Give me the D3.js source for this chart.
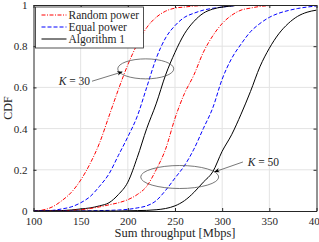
<!DOCTYPE html>
<meta charset="utf-8">
<html lang="en">
<head>
    <script src="https://d3js.org/d3.v7.min.js"></script>
    <style>
        body { margin: 0; background: #fff; }
        text { font-family: "Liberation Serif", serif; fill: #262626; }
        .grid line { stroke: #e3e3e3; stroke-width: 1; }
    </style>
</head>
<body>
<svg width="319" height="242"></svg>
<script>
    // throughput grid (Mbps) shared by the series
    var xs = [100, 110, 120, 130, 140, 150, 160, 170, 180, 190, 200, 210, 220, 230, 240, 250,
              260, 270, 280, 290, 300, 310, 320, 330, 340, 350, 360, 370, 380, 390, 400];

    // K = 30
    var random30 = [0, 0.005, 0.02, 0.05, 0.09, 0.15, 0.23, 0.33, 0.46, 0.59, 0.71, 0.81, 0.89, 0.94, 0.97, 0.985,
                    0.99, 0.995, 0.997, 0.999, 1, 1, 1, 1, 1, 1, 1, 1, 1, 1, 1];
    var equal30  = [0, 0.001, 0.003, 0.01, 0.02, 0.04, 0.07, 0.12, 0.18, 0.27, 0.36, 0.46, 0.6, 0.74, 0.84, 0.9,
                    0.94, 0.96, 0.975, 0.984, 0.99, 0.995, 1, 1, 1, 1, 1, 1, 1, 1, 1];
    var algo30   = [0, 0, 0.001, 0.002, 0.005, 0.01, 0.015, 0.025, 0.04, 0.08, 0.14, 0.26, 0.4, 0.52, 0.66, 0.77,
                    0.86, 0.92, 0.96, 0.98, 0.99, 0.995, 1, 1, 1, 1, 1, 1, 1, 1, 1];
    // K = 50
    var random50 = [0, 0, 0, 0.001, 0.003, 0.006, 0.012, 0.02, 0.03, 0.04, 0.055, 0.08, 0.12, 0.2, 0.3, 0.45,
                    0.57, 0.66, 0.77, 0.85, 0.91, 0.95, 0.975, 0.985, 0.993, 0.997, 1, 1, 1, 1, 1];
    var equal50  = [0, 0, 0, 0, 0, 0, 0.001, 0.002, 0.003, 0.005, 0.008, 0.015, 0.025, 0.05, 0.1, 0.16,
                    0.22, 0.3, 0.4, 0.5, 0.64, 0.74, 0.81, 0.87, 0.91, 0.94, 0.96, 0.973, 0.983, 0.99, 0.995];
    var algo50   = [0, 0, 0, 0, 0, 0, 0, 0, 0, 0, 0.001, 0.002, 0.003, 0.006, 0.012, 0.025,
                    0.05, 0.09, 0.14, 0.19, 0.29, 0.37, 0.47, 0.58, 0.7, 0.79, 0.86, 0.91, 0.945, 0.965, 0.975];

    var xTicks = [100, 150, 200, 250, 300, 350, 400];
    var yTicks = [0, 0.2, 0.4, 0.6, 0.8, 1];
    var names = ["Random power", "Equal power", "Algorithm 1"];

    var series = [
        { name: names[0], vals: random30, color: "#ff0000", dash: "4,1.5,1,1.5" },
        { name: names[1], vals: equal30,  color: "#0000ff", dash: "4,2" },
        { name: names[2], vals: algo30,   color: "#000000", dash: null },
        { name: names[0], vals: random50, color: "#ff0000", dash: "4,1.5,1,1.5" },
        { name: names[1], vals: equal50,  color: "#0000ff", dash: "4,2" },
        { name: names[2], vals: algo50,   color: "#000000", dash: null }
    ];

    var svg = d3.select("svg"),
        margin = { top: 5, right: 2.5, bottom: 31, left: 33.5 },
        width = 319 - margin.left - margin.right,
        height = 242 - margin.top - margin.bottom,
        g = svg.append("g").attr("transform", "translate(" + margin.left + "," + margin.top + ")");

    var x = d3.scaleLinear().domain([100, 400]).range([0, width]);
    var y = d3.scaleLinear().domain([0, 1]).range([height, 0]);

    // grid
    g.append("g").attr("class", "grid")
        .selectAll("line").data(xTicks.slice(1, -1)).enter().append("line")
        .attr("x1", x).attr("x2", x).attr("y1", 0).attr("y2", height);
    g.append("g").attr("class", "grid")
        .selectAll("line").data(yTicks.slice(1, -1)).enter().append("line")
        .attr("y1", y).attr("y2", y).attr("x1", 0).attr("x2", width);

    var defs = svg.append("defs");
    g.append("clipPath").attr("id", "clip").append("rect")
        .attr("width", width).attr("height", height);

    var line = d3.line()
        .x(function(d, i) { return x(xs[i]); })
        .y(function(d) { return y(d); })
        .curve(d3.curveMonotoneX);

    g.append("g").attr("clip-path", "url(#clip)")
        .selectAll("path").data(series).enter().append("path")
        .attr("d", function(d) { return line(d.vals); })
        .attr("fill", "none")
        .attr("stroke", function(d) { return d.color; })
        .attr("stroke-width", 1)
        .attr("stroke-dasharray", function(d) { return d.dash; });

    // axes (ticks inward, full box)
    var axisStyle = function(sel) {
        sel.select(".domain").attr("stroke", "#262626");
        sel.selectAll(".tick line").attr("stroke", "#262626");
        sel.selectAll("text").style("font-size", "11px").attr("fill", "#262626")
            .style("font-family", "'Liberation Serif', serif");
    };
    g.append("g").attr("transform", "translate(0," + height + ")")
        .call(d3.axisBottom(x).tickValues(xTicks).tickSize(-3).tickPadding(6).tickSizeOuter(0))
        .call(axisStyle);
    g.append("g")
        .call(d3.axisLeft(y).tickValues(yTicks).tickFormat(d3.format("")).tickSize(-3).tickPadding(6).tickSizeOuter(0))
        .call(axisStyle);
    g.append("g")
        .call(d3.axisTop(x).tickValues(xTicks).tickSize(-3).tickFormat("").tickSizeOuter(0))
        .call(axisStyle);
    g.append("g").attr("transform", "translate(" + width + ",0)")
        .call(d3.axisRight(y).tickValues(yTicks).tickSize(-3).tickFormat("").tickSizeOuter(0))
        .call(axisStyle);

    // axis titles
    svg.append("text")
        .attr("x", margin.left + width / 2).attr("y", 237)
        .attr("text-anchor", "middle").style("font-size", "12.5px")
        .text("Sum throughput [Mbps]");
    svg.append("text")
        .attr("transform", "translate(12," + (margin.top + height / 2) + ") rotate(-90)")
        .attr("text-anchor", "middle").style("font-size", "12px")
        .text("CDF");

    // legend
    var lg = g.append("g").attr("transform", "translate(2,2)");
    lg.append("rect").attr("width", 108).attr("height", 41)
        .attr("fill", "#fff").attr("stroke", "#262626").attr("stroke-width", 0.8);
    var item = lg.selectAll("g.item").data(series.slice(0, 3)).enter().append("g")
        .attr("transform", function(d, i) { return "translate(0," + (8 + i * 12) + ")"; });
    item.append("line").attr("x1", 6).attr("x2", 31).attr("y1", 0).attr("y2", 0)
        .attr("stroke", function(d) { return d.color; })
        .attr("stroke-dasharray", function(d) { return d.dash; });
    item.append("text").attr("x", 33).attr("dy", "0.35em").style("font-size", "11.5px")
        .text(function(d) { return d.name; });

    // annotations: ellipses with arrows
    defs.append("marker").attr("id", "arr").attr("viewBox", "0 0 10 10")
        .attr("refX", 9).attr("refY", 5).attr("markerWidth", 7).attr("markerHeight", 7)
        .attr("orient", "auto").append("path").attr("d", "M0,1L10,5L0,9L3,5Z").attr("fill", "#000");

    var notes = [
        { label: "K = 30", cx: 219, cy: 0.69, rx: 28, ry: 10, from: [162, 0.63], to: [194, 0.675], tx: 160, ty: 0.63, anchor: "end" },
        { label: "K = 50", cx: 255, cy: 0.165, rx: 39, ry: 11.5, from: [322, 0.238], to: [292, 0.19], tx: 327, ty: 0.238, anchor: "start" }
    ];
    notes.forEach(function(n) {
        g.append("ellipse").attr("cx", x(n.cx)).attr("cy", y(n.cy)).attr("rx", n.rx).attr("ry", n.ry)
            .attr("fill", "none").attr("stroke", "#555").attr("stroke-width", 0.8);
        g.append("line").attr("x1", x(n.from[0])).attr("y1", y(n.from[1]))
            .attr("x2", x(n.to[0])).attr("y2", y(n.to[1]))
            .attr("stroke", "#555").attr("stroke-width", 0.8).attr("marker-end", "url(#arr)");
        var t = g.append("text").attr("x", x(n.tx)).attr("y", y(n.ty)).attr("dy", "0.35em")
            .attr("text-anchor", n.anchor).style("font-size", "11.5px");
        t.append("tspan").style("font-style", "italic").text("K");
        t.append("tspan").text(" = " + n.label.split("= ")[1]);
    });
</script>
</body>
</html>
